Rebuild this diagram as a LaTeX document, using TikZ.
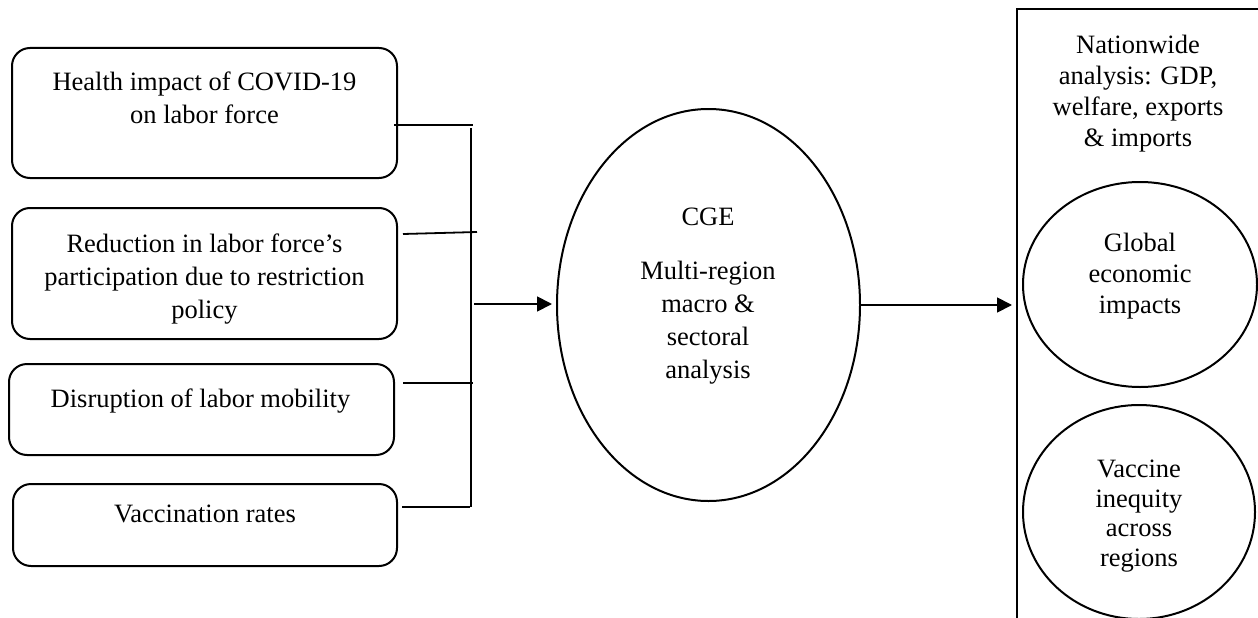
\documentclass[tikz,border=0pt]{standalone}
\usepackage{fontspec}
\setmainfont{Liberation Serif}
\usetikzlibrary{shapes.geometric,arrows.meta}
\tikzset{
  box/.style={draw, line width=2pt, rounded corners=18pt, inner sep=0pt},
  oval/.style={draw, ellipse, line width=2pt, inner sep=0pt},
  txt/.style={align=center, inner sep=0pt, anchor=north,
    font=\fontsize{26.5}{33}\selectfont},
  txtr/.style={align=center, inner sep=0pt, anchor=north,
    font=\fontsize{26.5}{31}\selectfont},
  conn/.style={line width=1.8pt},
  arr/.style={line width=1.8pt, -{Triangle[length=15pt,width=15pt]}}
}
\begin{document}
\begin{tikzpicture}[x=1pt,y=-1pt]
\useasboundingbox (0,0) rectangle (1258,618);
\clip (0,0) rectangle (1258,618);
% input boxes
\node[box, minimum width=385pt, minimum height=130pt] (b1) at (204.5,113) {};
\node[box, minimum width=385pt, minimum height=131pt] (b2) at (204.5,273.5) {};
\node[box, minimum width=385pt, minimum height=91pt] (b3) at (201.5,409.5) {};
\node[box, minimum width=384pt, minimum height=82pt] (b4) at (205,525) {};
\node[txt] (t1) at ([yshift=-25pt]b1.north) {Health impact of COVID-19\\on labor force};
\node[txt] (t2) at ([yshift=-27pt]b2.north) {Reduction in labor force’s\\participation due to restriction\\policy};
\node[txt] (t3) at ([xshift=-1pt,yshift=-26pt]b3.north) {Disruption of labor mobility};
\node[txt] (t4) at ([yshift=-22pt]b4.north) {Vaccination rates};
% CGE ellipse
\node[oval, minimum width=303pt, minimum height=392pt] (cge) at (708.5,305) {};
\node[txt] (tc) at (708,208) {CGE\\[21pt]Multi-region\\macro \&\\sectoral\\analysis};
% output panel
\node[draw, line width=2pt, inner sep=0pt, minimum width=283pt, minimum height=651pt] (panel) at (1158.5,334.5) {};
\node[txtr] (tn) at (1138,35) {Nationwide\\analysis: GDP,\\welfare, exports\\\& imports};
\node[oval, minimum width=234pt, minimum height=205pt] (glob) at (1140,284.5) {};
\node[txtr] (tg) at (1140,233) {Global\\economic\\impacts};
\node[oval, minimum width=232pt, minimum height=214pt] (vac) at (1139,512) {};
\node[txt, font=\fontsize{26.5}{29.5}\selectfont] (tv) at (1139,460) {Vaccine\\inequity\\across\\regions};
% connectors
\coordinate (j1) at (473,125);
\coordinate (j2) at (477,232);
\coordinate (j3) at (473,383);
\coordinate (j4) at (470,507);
\coordinate (vtop) at (471,128);
\coordinate (vbot) at (471,507);
\coordinate (jm) at (474,304);
\draw[conn] ([xshift=-4pt]b1.east |- j1) -- (j1);
\draw[conn] ([xshift=5pt,yshift=-2pt]b2.east |- j2) -- (j2);
\draw[conn] ([xshift=8pt]b3.east |- j3) -- (j3);
\draw[conn] ([xshift=4pt]b4.east |- j4) -- (j4);
\draw[conn] (vtop) -- (vbot);
\draw[arr, shorten >=4pt] (jm) -- (cge.west |- jm);
\draw[arr, shorten >=4pt] (cge.east) -- (panel.west |- cge.east);
\end{tikzpicture}
\end{document}
